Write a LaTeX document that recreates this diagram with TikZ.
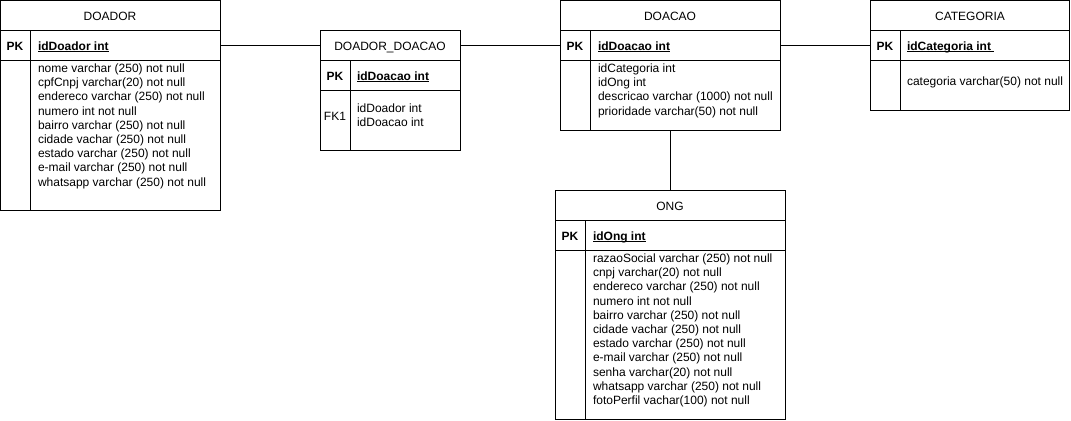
\documentclass[tikz,border=0pt]{standalone}
\usepackage{fontspec}
\setmainfont{Liberation Sans}
\newcommand\pkul[1]{\setbox0\hbox{#1}\rlap{\rule[-1.6pt]{\wd0}{0.6pt}}\box0}
\begin{document}
\begin{tikzpicture}[x=0.75pt,y=-0.75pt,
  tcell/.style 2 args={draw=black, line width=0.75pt, minimum width=#1*0.75pt, minimum height=#2*0.75pt, inner sep=0pt, outer sep=0pt, anchor=north west},
  txt/.style={inner sep=0pt, outer sep=0pt, font=\fontsize{9}{10.65}\selectfont, text=black},
  hdtxt/.style={txt, anchor=base},
  keytxt/.style={txt, anchor=base},
  pktxt/.style={txt, anchor=base, font=\fontsize{9}{10.65}\selectfont\bfseries},
  pkfld/.style={txt, anchor=base west, font=\fontsize{9}{10.65}\selectfont\bfseries},
  fld/.style={txt, anchor=base west},
  link/.style={draw=black, line width=0.75pt},
  divider/.style={draw=black, line width=0.75pt}
]
\useasboundingbox (0,0) rectangle (1071,421);

% ---------------- DOADOR ----------------
\node[tcell={219.5}{29.5}] (doador-h) at (0.5,0.5) {};
\node[tcell={219.5}{30}] (doador-pk) at (doador-h.south west) {};
\node[tcell={219.5}{150}] (doador-b) at (doador-pk.south west) {};
\draw[divider] ([xshift=22.5pt]doador-pk.north west) -- ([xshift=22.5pt]doador-b.south west);
\node[hdtxt] (doador-t) at (110,20) {DOADOR};
\node[pktxt] (doador-pkk) at (15,50) {PK};
\node[pkfld] (doador-pkf) at (38,50) {\pkul{idDoador int}};
\foreach \t [count=\i] in {nome varchar (250) not null, cpfCnpj varchar(20) not null, endereco varchar (250) not null, numero int not null, bairro varchar (250) not null, cidade vachar (250) not null, estado varchar (250) not null, e-mail varchar (250) not null, whatsapp varchar (250) not null}
  \node[fld] (doador-f\i) at ({38},{72.5+14.2*(\i-1)}) {\t};

% ---------------- DOADOR_DOACAO ----------------
\node[tcell={139.5}{29.5}] (dd-h) at (320.5,30.5) {};
\node[tcell={139.5}{30}] (dd-pk) at (dd-h.south west) {};
\node[tcell={139.5}{60}] (dd-b) at (dd-pk.south west) {};
\draw[divider] ([xshift=22.5pt]dd-pk.north west) -- ([xshift=22.5pt]dd-b.south west);
\node[hdtxt] (dd-t) at (390,50) {DOADOR\_DOACAO};
\node[pktxt] (dd-pkk) at (335,80) {PK};
\node[pkfld] (dd-pkf) at (357,80) {\pkul{idDoacao int}};
\node[keytxt] (dd-fk) at (335,120) {FK1};
\node[fld] (dd-f1) at (357,112) {idDoador int};
\node[fld] (dd-f2) at (357,126) {idDoacao int};

% ---------------- DOACAO ----------------
\node[tcell={220}{29.5}] (doacao-h) at (560,0.5) {};
\node[tcell={220}{30}] (doacao-pk) at (doacao-h.south west) {};
\node[tcell={220}{70}] (doacao-b) at (doacao-pk.south west) {};
\draw[divider] ([xshift=22.5pt]doacao-pk.north west) -- ([xshift=22.5pt]doacao-b.south west);
\node[hdtxt] (doacao-t) at (670,20) {DOACAO};
\node[pktxt] (doacao-pkk) at (575,50) {PK};
\node[pkfld] (doacao-pkf) at (598,50) {\pkul{idDoacao int}};
\foreach \t [count=\i] in {idCategoria int, idOng int, descricao varchar (1000) not null, prioridade varchar(50) not null}
  \node[fld] (doacao-f\i) at ({598},{72.5+14.2*(\i-1)}) {\t};

% ---------------- CATEGORIA ----------------
\node[tcell={199.5}{29.5}] (cat-h) at (870,0.5) {};
\node[tcell={199.5}{30}] (cat-pk) at (cat-h.south west) {};
\node[tcell={199.5}{50}] (cat-b) at (cat-pk.south west) {};
\draw[divider] ([xshift=22.5pt]cat-pk.north west) -- ([xshift=22.5pt]cat-b.south west);
\node[hdtxt] (cat-t) at (970,20) {CATEGORIA};
\node[pktxt] (cat-pkk) at (885,50) {PK};
\node[pkfld] (cat-pkf) at (907,50) {\pkul{idCategoria int\ }};
\node[fld] (cat-f1) at (907,85) {categoria varchar(50) not null};

% ---------------- ONG ----------------
\node[tcell={230}{30}] (ong-h) at (555,190) {};
\node[tcell={230}{30}] (ong-pk) at (ong-h.south west) {};
\node[tcell={230}{169.5}] (ong-b) at (ong-pk.south west) {};
\draw[divider] ([xshift=22.5pt]ong-pk.north west) -- ([xshift=22.5pt]ong-b.south west);
\node[hdtxt] (ong-t) at (670,210) {ONG};
\node[pktxt] (ong-pkk) at (570,240) {PK};
\node[pkfld] (ong-pkf) at (593,240) {\pkul{idOng int}};
\foreach \t [count=\i] in {razaoSocial varchar (250) not null, cnpj varchar(20) not null, endereco varchar (250) not null, numero int not null, bairro varchar (250) not null, cidade vachar (250) not null, estado varchar (250) not null, e-mail varchar (250) not null, senha varchar(20) not null, whatsapp varchar (250) not null, fotoPerfil vachar(100) not null}
  \node[fld] (ong-f\i) at ({593},{262.5+14.2*(\i-1)}) {\t};

% ---------------- connectors ----------------
\draw[link] (doador-pk.east) -- (doador-pk.east -| dd-h.west);
\draw[link] (dd-h.east) -- (dd-h.east -| doacao-pk.west);
\draw[link] (doacao-pk.east) -- (cat-pk.west);
\draw[link] (doacao-b.south) -- (ong-h.north);
\end{tikzpicture}
\end{document}
